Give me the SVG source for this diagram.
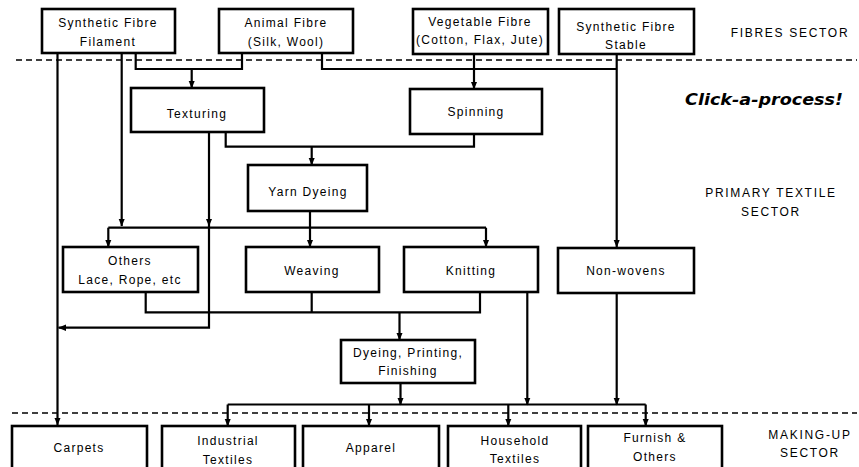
<svg xmlns="http://www.w3.org/2000/svg" width="859" height="467" viewBox="0 0 859 467">
<defs>
<style>
.box{fill:#fff;stroke:#000;stroke-width:2.6}
.t{font-family:"Liberation Sans",Arial,sans-serif;font-size:12px;letter-spacing:1.3px;text-anchor:middle;fill:#000}
.sec{font-family:"Liberation Sans",Arial,sans-serif;font-size:12px;letter-spacing:1.7px;text-anchor:middle;fill:#000}
.c{fill:none;stroke:#000;stroke-width:2.2}
.a{fill:none;stroke:#000;stroke-width:2.2;marker-end:url(#ah)}
.dash{fill:none;stroke:#000;stroke-width:1.4;stroke-dasharray:6,4}
</style>
<marker id="ah" markerUnits="userSpaceOnUse" markerWidth="8" markerHeight="8" viewBox="0 0 8 8" refX="7.5" refY="4" orient="auto">
<path d="M0,0.8 L8,4 L0,7.2 Z" fill="#000"/>
</marker>
</defs>
<rect width="859" height="467" fill="#fff"/>
<g id="dividers">
<line class="dash" x1="16" y1="60" x2="857" y2="60"/>
<line class="dash" x1="12" y1="413" x2="857" y2="413"/>
</g>
<g id="connectors">
<path class="a" d="M57.5,53 V425"/>
<path class="a" d="M121.7,53 V226"/>
<path class="c" d="M135.7,53 V69 H242 V53"/>
<path class="a" d="M191.7,69 V88"/>
<path class="c" d="M322,53 V69 H616.7"/>
<path class="a" d="M616.7,54 V247"/>
<path class="a" d="M474,54 V89"/>
<path class="a" d="M209,132 V226"/>
<path class="a" d="M209,226 V327.7 H58.5"/>
<path class="c" d="M225.7,132 V146.7 H474 V134"/>
<path class="a" d="M311.7,146.7 V165"/>
<path class="a" d="M310,211 V247"/>
<path class="a" d="M108.3,227.7 V247"/>
<path class="c" d="M108.3,227.7 H486"/>
<path class="a" d="M486,227.7 V247"/>
<path class="c" d="M145.7,292 V312.3 H480 V292"/>
<path class="c" d="M311.7,292 V312.3"/>
<path class="a" d="M399.5,312.3 V340"/>
<path class="a" d="M400.5,383 V405"/>
<path class="c" d="M227.7,404.5 H645.7"/>
<path class="a" d="M227.7,404.5 V426"/>
<path class="a" d="M369,404.5 V426"/>
<path class="a" d="M508.3,404.5 V426"/>
<path class="a" d="M645.7,404.5 V426"/>
<path class="a" d="M527.3,292 V405"/>
<path class="a" d="M616.7,293 V405"/>
</g>
<g id="synthetic-filament"><rect class="box" x="42" y="9" width="133" height="44"/><text class="t" x="108" y="27">Synthetic Fibre</text><text class="t" x="108" y="46">Filament</text></g>
<g id="animal-fibre"><rect class="box" x="219" y="9" width="134" height="44"/><text class="t" x="286" y="27">Animal Fibre</text><text class="t" x="286" y="46">(Silk, Wool)</text></g>
<g id="vegetable-fibre"><rect class="box" x="413" y="9" width="135" height="45"/><text class="t" x="480" y="26">Vegetable Fibre</text><text class="t" x="480" y="44">(Cotton, Flax, Jute)</text></g>
<g id="synthetic-stable"><rect class="box" x="559" y="9" width="135" height="45"/><text class="t" x="626" y="31">Synthetic Fibre</text><text class="t" x="626" y="49">Stable</text></g>
<g id="texturing"><rect class="box" x="131" y="88" width="133" height="44"/><text class="t" x="197" y="118">Texturing</text></g>
<g id="spinning"><rect class="box" x="410" y="89" width="132" height="45"/><text class="t" x="476" y="116">Spinning</text></g>
<g id="yarn-dyeing"><rect class="box" x="248" y="165" width="119" height="46"/><text class="t" x="308" y="196">Yarn Dyeing</text></g>
<g id="others"><rect class="box" x="63" y="247" width="135" height="45"/><text class="t" x="130" y="265">Others</text><text class="t" x="130" y="284">Lace, Rope, etc</text></g>
<g id="weaving"><rect class="box" x="246" y="247" width="133" height="45"/><text class="t" x="312" y="275">Weaving</text></g>
<g id="knitting"><rect class="box" x="404" y="247" width="134" height="45"/><text class="t" x="471" y="275">Knitting</text></g>
<g id="non-wovens"><rect class="box" x="558" y="248" width="136" height="45"/><text class="t" x="626" y="275">Non-wovens</text></g>
<g id="dyeing-printing"><rect class="box" x="341" y="340" width="134" height="43"/><text class="t" x="408" y="357">Dyeing, Printing,</text><text class="t" x="408" y="375">Finishing</text></g>
<g id="carpets"><rect class="box" x="12" y="426" width="135" height="50"/><text class="t" x="79" y="452">Carpets</text></g>
<g id="industrial"><rect class="box" x="162" y="426" width="133" height="50"/><text class="t" x="228" y="445">Industrial</text><text class="t" x="228" y="464">Textiles</text></g>
<g id="apparel"><rect class="box" x="303" y="426" width="136" height="50"/><text class="t" x="371" y="452">Apparel</text></g>
<g id="household"><rect class="box" x="448" y="426" width="133" height="50"/><text class="t" x="515" y="445">Household</text><text class="t" x="515" y="463">Textiles</text></g>
<g id="furnish"><rect class="box" x="588" y="426" width="134" height="50"/><text class="t" x="655" y="442">Furnish &amp;</text><text class="t" x="655" y="461">Others</text></g>
<g id="labels">
<text class="sec" x="790" y="37">FIBRES SECTOR</text>
<text x="685" y="105" font-family="'DejaVu Sans',Verdana,sans-serif" font-size="15" font-weight="bold" font-style="italic" textLength="158" lengthAdjust="spacingAndGlyphs">Click-a-process!</text>
<text class="sec" x="771" y="197">PRIMARY TEXTILE</text>
<text class="sec" x="771" y="216">SECTOR</text>
<text class="sec" x="810" y="439">MAKING-UP</text>
<text class="sec" x="810" y="457">SECTOR</text>
</g>
</svg>
